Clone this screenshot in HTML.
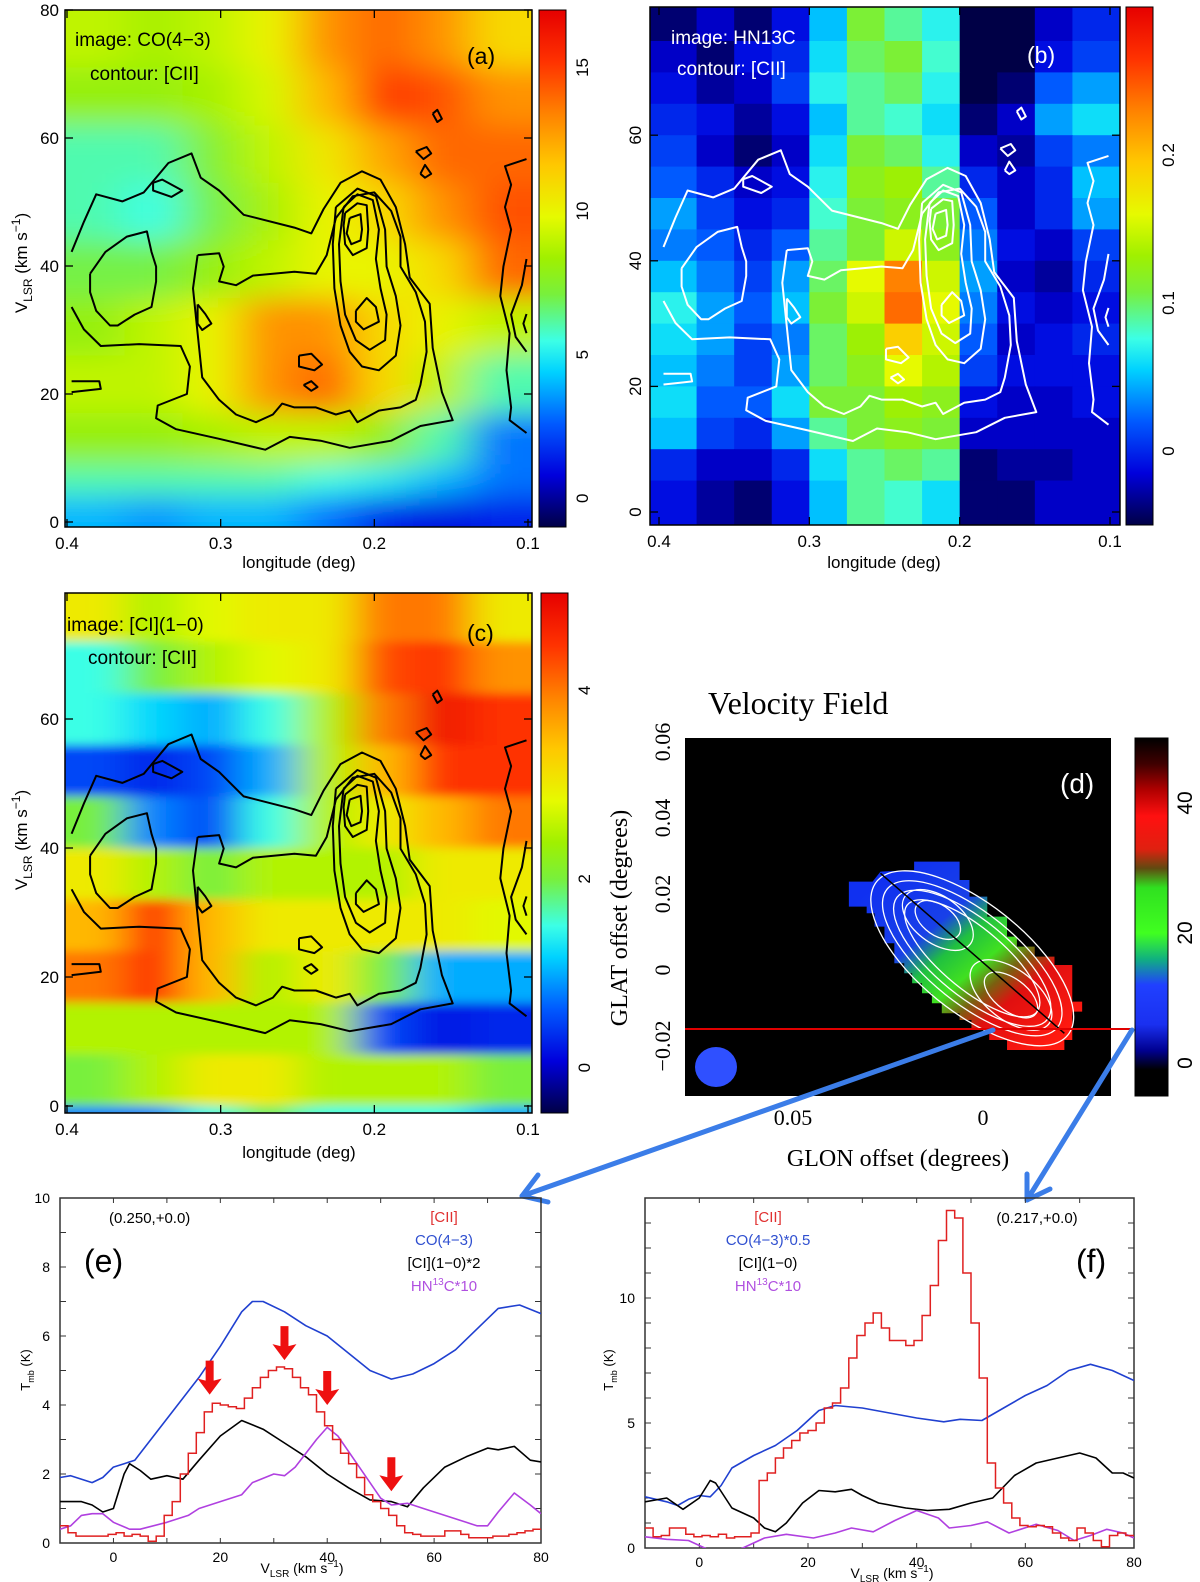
<!DOCTYPE html>
<html><head><meta charset="utf-8">
<style>
body{margin:0;background:#fff}
svg{display:block}
text{font-family:"Liberation Sans",sans-serif;fill:#000}
.serif{font-family:"Liberation Serif",serif}
</style></head>
<body>
<svg id="fig" width="1200" height="1582" viewBox="0 0 1200 1582" xmlns="http://www.w3.org/2000/svg">
<defs>
  <clipPath id="clipA"><rect x="65" y="10" width="467" height="517"/></clipPath>
  <clipPath id="clipB"><rect x="650" y="7" width="470" height="518"/></clipPath>
  <clipPath id="clipC"><rect x="65" y="593" width="467" height="520"/></clipPath>
  <clipPath id="clipE"><rect x="60" y="1198" width="481" height="345"/></clipPath>
  <clipPath id="clipF"><rect x="645" y="1198" width="489" height="350"/></clipPath>
  <filter id="blurA" x="-0.2" y="-0.2" width="1.4" height="1.4"><feGaussianBlur stdDeviation="22 14"/></filter>
  <filter id="blurC" x="-0.2" y="-0.2" width="1.4" height="1.4"><feGaussianBlur stdDeviation="20 5"/></filter>
  <linearGradient id="jet" x1="0" y1="1" x2="0" y2="0">
    <stop offset="0" stop-color="rgb(0,0,70)"/><stop offset="0.1" stop-color="rgb(0,0,220)"/>
    <stop offset="0.2" stop-color="rgb(0,90,255)"/><stop offset="0.3" stop-color="rgb(0,210,255)"/>
    <stop offset="0.36" stop-color="rgb(60,255,230)"/><stop offset="0.45" stop-color="rgb(120,240,60)"/>
    <stop offset="0.52" stop-color="rgb(160,240,0)"/><stop offset="0.6" stop-color="rgb(230,250,0)"/>
    <stop offset="0.7" stop-color="rgb(255,200,0)"/><stop offset="0.8" stop-color="rgb(255,130,0)"/>
    <stop offset="0.9" stop-color="rgb(255,50,0)"/><stop offset="1" stop-color="rgb(230,0,0)"/>
  </linearGradient>
  <linearGradient id="velcb" x1="0" y1="0" x2="0" y2="1">
    <stop offset="0" stop-color="#000"/><stop offset="0.073" stop-color="#400000"/>
    <stop offset="0.145" stop-color="#b00000"/><stop offset="0.218" stop-color="#ff1010"/>
    <stop offset="0.31" stop-color="#e02010"/><stop offset="0.364" stop-color="#604a10"/>
    <stop offset="0.418" stop-color="#30e020"/><stop offset="0.545" stop-color="#40ff20"/>
    <stop offset="0.618" stop-color="#10b080"/><stop offset="0.69" stop-color="#2040ff"/>
    <stop offset="0.8" stop-color="#1a30f0"/><stop offset="0.873" stop-color="#000090"/>
    <stop offset="0.927" stop-color="#000"/><stop offset="1" stop-color="#000"/>
  </linearGradient>
  <linearGradient id="blobgrad" gradientUnits="userSpaceOnUse" x1="760" y1="600" x2="1220" y2="1060">
    <stop offset="0" stop-color="#1030f0"/><stop offset="0.3" stop-color="#1840e8"/>
    <stop offset="0.42" stop-color="#20c040"/><stop offset="0.55" stop-color="#40e020"/>
    <stop offset="0.65" stop-color="#7a6010"/><stop offset="0.75" stop-color="#e01010"/>
    <stop offset="1" stop-color="#ff1a10"/>
  </linearGradient>
</defs>

<!-- Panel a -->
<g>
  <g clip-path="url(#clipA)"><g id="heatA" filter="url(#blurA)"></g><g id="contA"></g></g>
  <rect x="65" y="10" width="467" height="517" fill="none" stroke="#000" stroke-width="1.5"/>
  <g id="axesA"></g>
  <rect x="539" y="10" width="27" height="517" fill="url(#jet)" stroke="#000"/>
  <text x="75" y="46" font-size="19">image: CO(4−3)</text>
  <text x="90" y="80" font-size="19">contour: [CII]</text>
  <text x="467" y="64" font-size="23">(a)</text>
  <text transform="translate(27,263) rotate(-90)" text-anchor="middle" font-size="17">V<tspan font-size="12" dy="5">LSR</tspan><tspan dy="-5"> (km s</tspan><tspan font-size="12" dy="-7">−1</tspan><tspan dy="7">)</tspan></text>
  <text x="299" y="568" text-anchor="middle" font-size="17">longitude (deg)</text>
</g>

<!-- Panel b -->
<g>
  <g clip-path="url(#clipB)"><rect x="650" y="7" width="470" height="518" fill="#000050"/><g id="heatB"></g><g id="contB"></g></g>
  <rect x="650" y="7" width="470" height="518" fill="none" stroke="#000" stroke-width="1.5"/>
  <g id="axesB"></g>
  <rect x="1126" y="7" width="27" height="518" fill="url(#jet)" stroke="#000"/>
  <text x="671" y="44" font-size="19" style="fill:#fff">image: HN13C</text>
  <text x="677" y="75" font-size="19" style="fill:#fff">contour: [CII]</text>
  <text x="1027" y="63" font-size="23" style="fill:#fff">(b)</text>
  <text x="884" y="568" text-anchor="middle" font-size="17">longitude (deg)</text>
</g>

<!-- Panel c -->
<g>
  <g clip-path="url(#clipC)"><g id="heatC" filter="url(#blurC)"></g><g id="contC"></g></g>
  <rect x="65" y="593" width="467" height="520" fill="none" stroke="#000" stroke-width="1.5"/>
  <g id="axesC"></g>
  <rect x="541" y="593" width="27" height="520" fill="url(#jet)" stroke="#000"/>
  <text x="67" y="631" font-size="19">image: [CI](1−0)</text>
  <text x="88" y="664" font-size="19">contour: [CII]</text>
  <text x="467" y="641" font-size="23">(c)</text>
  <text transform="translate(27,840) rotate(-90)" text-anchor="middle" font-size="17">V<tspan font-size="12" dy="5">LSR</tspan><tspan dy="-5"> (km s</tspan><tspan font-size="12" dy="-7">−1</tspan><tspan dy="7">)</tspan></text>
  <text x="299" y="1158" text-anchor="middle" font-size="17">longitude (deg)</text>
</g>

<!-- Panel d -->
<g>
  <text class="serif" x="708" y="714" font-size="32">Velocity Field</text>
  <rect x="685" y="738" width="426" height="358" fill="#000"/>
  <g transform="translate(580,680) scale(0.3954,0.3333)">
    <polygon fill="url(#blobgrad)" points="680,605 740,605 760,575 845,570 845,545 960,545 960,600 985,600 985,650 1030,650 1030,710 1080,710 1080,770 1105,770 1105,800 1150,800 1150,830 1200,830 1200,855 1245,855 1245,965 1270,965 1270,995 1245,995 1245,1080 1225,1080 1225,1110 1080,1110 1080,1080 1035,1080 1035,1050 990,1050 990,1020 960,1020 960,1000 915,1000 915,970 890,970 890,940 865,940 865,910 840,910 840,880 820,880 820,850 795,850 795,790 770,790 770,740 745,740 745,700 725,700 725,680 680,680"/>
    <g fill="none" stroke="#fff" stroke-width="1.3">
      <ellipse cx="992" cy="835" rx="335" ry="150" transform="rotate(46 992 835)" vector-effect="non-scaling-stroke"/>
      <ellipse cx="992" cy="835" rx="300" ry="125" transform="rotate(46 992 835)" vector-effect="non-scaling-stroke"/>
      <ellipse cx="992" cy="835" rx="265" ry="105" transform="rotate(46 992 835)" vector-effect="non-scaling-stroke"/>
      <ellipse cx="992" cy="835" rx="230" ry="85" transform="rotate(46 992 835)" vector-effect="non-scaling-stroke"/>
      <ellipse cx="905" cy="720" rx="110" ry="65" transform="rotate(46 905 720)" vector-effect="non-scaling-stroke"/>
      <ellipse cx="905" cy="720" rx="70" ry="42" transform="rotate(46 905 720)" vector-effect="non-scaling-stroke"/>
      <ellipse cx="1090" cy="945" rx="130" ry="70" transform="rotate(46 1090 945)" vector-effect="non-scaling-stroke"/>
      <ellipse cx="1090" cy="945" rx="85" ry="45" transform="rotate(46 1090 945)" vector-effect="non-scaling-stroke"/>
    </g>
    <line x1="760" y1="580" x2="1225" y2="1060" stroke="#000" stroke-width="1.5" vector-effect="non-scaling-stroke"/>
  </g>
  <text x="1060" y="793" font-size="28" style="fill:#fff">(d)</text>
  <ellipse cx="716" cy="1067" rx="21" ry="20" fill="#2f50ff"/>
  <line x1="685" y1="1029" x2="1132" y2="1029" stroke="#e00000" stroke-width="2"/>
  <rect x="1135" y="738" width="33" height="358" fill="url(#velcb)" stroke="#000"/>
  <g font-size="21">
    <text transform="translate(1192,803) rotate(-90)" text-anchor="middle">40</text>
    <text transform="translate(1192,933) rotate(-90)" text-anchor="middle">20</text>
    <text transform="translate(1192,1063) rotate(-90)" text-anchor="middle">0</text>
  </g>
  <g font-size="22">
    <text class="serif" transform="translate(670,742) rotate(-90)" text-anchor="middle">0.06</text>
    <text class="serif" transform="translate(670,818) rotate(-90)" text-anchor="middle">0.04</text>
    <text class="serif" transform="translate(670,894) rotate(-90)" text-anchor="middle">0.02</text>
    <text class="serif" transform="translate(670,970) rotate(-90)" text-anchor="middle">0</text>
    <text class="serif" transform="translate(670,1046) rotate(-90)" text-anchor="middle">−0.02</text>
    <text class="serif" x="793" y="1125" text-anchor="middle">0.05</text>
    <text class="serif" x="983" y="1125" text-anchor="middle">0</text>
  </g>
  <text class="serif" transform="translate(627,918) rotate(-90)" text-anchor="middle" font-size="24">GLAT offset (degrees)</text>
  <text class="serif" x="898" y="1166" text-anchor="middle" font-size="24">GLON offset (degrees)</text>
</g>

<!-- connector arrows -->
<g stroke="#3b7de8" stroke-width="5" stroke-linecap="round" stroke-linejoin="round" fill="none">
  <line x1="993" y1="1030" x2="522" y2="1196"/>
  <polyline points="538,1175 522,1196 548,1202"/>
  <line x1="1132" y1="1030" x2="1027" y2="1200"/>
  <polyline points="1050,1189 1027,1200 1027,1174"/>
</g>

<!-- Panel e -->
<g>
  <g id="plotE"></g>
  <text x="109" y="1223" font-size="15">(0.250,+0.0)</text>
  <text x="84" y="1272" font-size="32">(e)</text>
  <g font-size="15" text-anchor="middle">
    <text x="444" y="1222" style="fill:#e03030">[CII]</text>
    <text x="444" y="1245" style="fill:#3050d0">CO(4−3)</text>
    <text x="444" y="1268">[CI](1−0)*2</text>
    <text x="444" y="1291" style="fill:#b050e0">HN<tspan font-size="10" dy="-6">13</tspan><tspan dy="6">C*10</tspan></text>
  </g>
  <text transform="translate(30,1370) rotate(-90)" text-anchor="middle" font-size="13">T<tspan font-size="9" dy="4">mb</tspan><tspan dy="-4"> (K)</tspan></text>
  <text x="302" y="1573" text-anchor="middle" font-size="14">V<tspan font-size="10" dy="4">LSR</tspan><tspan dy="-4"> (km s</tspan><tspan font-size="10" dy="-6">−1</tspan><tspan dy="6">)</tspan></text>
</g>

<!-- Panel f -->
<g>
  <g id="plotF"></g>
  <text x="1037" y="1223" text-anchor="middle" font-size="15">(0.217,+0.0)</text>
  <text x="1076" y="1272" font-size="32">(f)</text>
  <g font-size="15" text-anchor="middle">
    <text x="768" y="1222" style="fill:#e03030">[CII]</text>
    <text x="768" y="1245" style="fill:#3050d0">CO(4−3)*0.5</text>
    <text x="768" y="1268">[CI](1−0)</text>
    <text x="768" y="1291" style="fill:#b050e0">HN<tspan font-size="10" dy="-6">13</tspan><tspan dy="6">C*10</tspan></text>
  </g>
  <text transform="translate(613,1370) rotate(-90)" text-anchor="middle" font-size="13">T<tspan font-size="9" dy="4">mb</tspan><tspan dy="-4"> (K)</tspan></text>
  <text x="892" y="1578" text-anchor="middle" font-size="14">V<tspan font-size="10" dy="4">LSR</tspan><tspan dy="-4"> (km s</tspan><tspan font-size="10" dy="-6">−1</tspan><tspan dy="6">)</tspan></text>
</g>
</svg>

<script>
// ---------- data: PV images ----------
const aLonEdges = [0.4,0.3625,0.325,0.2875,0.25,0.2125,0.175,0.1375,0.1];
const aVelEdges = [80,71,62,53,44,35,26,17,9,4,-1];
const aValues = [
  [9,8.5,9,10,13,14,13,11],
  [8,8,8.5,9.5,12,15,14.5,13],
  [6,6,7.5,9,10.5,12.5,14,14],
  [6,5.5,7,8.5,10,11,13,14.5],
  [7,7,8,9,10,10,11,14],
  [8,9,10,13,13,11,10,9],
  [9,9,10,13,14,11,9,6],
  [8,8,8.5,9,9,8,6,3],
  [6,6,6,6,5.5,5,4,3],
  [4,3.5,4,4,3,1.5,1,1.5]
];
const cLonEdges = [0.4,0.3625,0.325,0.2875,0.25,0.2125,0.175,0.1375,0.1];
const cVelEdges = [80,72,64,56,48,40,32,24,16,8,0,-1];
const cValues = [
  [3,2.5,2.8,3,3,4,4,3],
  [1.5,2,2.5,2.8,3,4.3,4.5,3.8],
  [1.5,1.2,1,1.5,2.5,4,4.8,4.5],
  [0.5,0.3,0.5,1,2.5,3.5,4.5,4.5],
  [2,0.8,0.5,1.5,2.5,3,3.5,4],
  [3,2.5,2,2.5,2.5,2.5,3,3],
  [3.5,4.5,3.5,3,3,3,3,2.8],
  [4,4.5,3.5,2.5,3,2,1,1],
  [2.5,2.5,2.5,2.5,2.5,0.5,0.2,0.3],
  [2,2.5,3,3,2.5,2.5,2.5,2],
  [0.8,0.8,1.5,2,1.5,1.5,1.5,1]
];
const bLonEdges = [0.406,0.375,0.35,0.325,0.3,0.275,0.25,0.225,0.2,0.175,0.15,0.125,0.093];
const bVelEdges = [81,75,70,65,60,55,50,45,40,35,30,25,20,15,10,5,-2];
const bValues = [
  [-0.04,-0.02,-0.04,-0.01,0.05,0.11,0.09,0.07,-0.07,-0.07,-0.02,0.0],
  [-0.02,-0.04,-0.01,0.0,0.06,0.10,0.11,0.08,-0.07,-0.06,-0.01,0.01],
  [-0.01,-0.03,-0.02,0.01,0.07,0.09,0.10,0.07,-0.06,-0.04,0.02,0.04],
  [0.0,-0.01,-0.03,-0.01,0.05,0.09,0.08,0.06,-0.04,-0.02,0.04,0.06],
  [0.01,-0.02,-0.04,-0.02,0.06,0.11,0.10,0.07,-0.02,-0.03,0.01,0.03],
  [0.02,0.0,-0.02,-0.01,0.07,0.12,0.13,0.09,0.0,-0.02,0.0,0.05],
  [0.04,0.01,-0.01,0.0,0.08,0.11,0.12,0.11,0.02,-0.02,0.0,0.04],
  [0.03,0.02,0.0,0.02,0.09,0.11,0.15,0.12,0.03,-0.01,-0.02,0.01],
  [0.05,0.03,0.01,0.04,0.10,0.16,0.23,0.15,0.04,-0.02,-0.03,0.0],
  [0.07,0.04,0.02,0.05,0.11,0.15,0.24,0.16,0.03,-0.01,-0.02,-0.01],
  [0.06,0.04,0.01,0.03,0.10,0.13,0.19,0.15,0.02,-0.02,-0.01,0.0],
  [0.05,0.03,0.01,0.04,0.10,0.12,0.16,0.14,0.01,-0.01,-0.01,-0.01],
  [0.06,0.02,0.02,0.06,0.11,0.11,0.13,0.12,-0.01,-0.02,-0.02,-0.01],
  [0.05,0.01,0.0,0.04,0.09,0.11,0.12,0.11,-0.02,-0.02,-0.02,-0.02],
  [0.0,-0.02,-0.02,0.0,0.06,0.09,0.10,0.09,-0.04,-0.03,-0.03,-0.02],
  [-0.01,-0.03,-0.04,-0.01,0.05,0.09,0.08,0.06,-0.04,-0.04,-0.02,-0.02]
];
// [CII] contours (longitude deg, velocity km/s)
const ciiContours = [
  [[0.397,42.2],[0.389,46.9],[0.381,51.2],[0.364,50.1],[0.350,51.5],[0.334,56.1],[0.319,57.6],[0.313,53.8],[0.301,51.8],[0.285,48.0],[0.252,46.0],[0.241,45.1],[0.233,48.9],[0.222,53.0],[0.208,54.8],[0.196,53.5],[0.186,49.2],[0.180,43.4],[0.177,38.2],[0.164,34.1],[0.162,27.2],[0.156,20.3],[0.149,15.9],[0.170,15.0],[0.189,12.7],[0.216,11.6],[0.235,12.7],[0.255,13.3],[0.271,11.3],[0.301,13.0],[0.329,14.5],[0.342,16.2],[0.341,18.2],[0.322,20.0],[0.320,24.3],[0.326,27.5],[0.353,27.8],[0.378,27.5],[0.389,30.1],[0.397,33.6]],
  [[0.315,41.7],[0.301,42.0],[0.298,39.9],[0.301,37.6],[0.290,37.0],[0.279,38.5],[0.252,39.1],[0.238,38.8],[0.231,41.7],[0.225,47.5],[0.214,50.9],[0.200,51.5],[0.189,48.6],[0.183,44.6],[0.183,39.9],[0.173,35.9],[0.167,31.3],[0.166,26.6],[0.170,21.4],[0.173,19.1],[0.183,17.9],[0.197,17.4],[0.211,15.6],[0.216,17.4],[0.225,16.8],[0.238,17.9],[0.252,17.9],[0.260,18.5],[0.266,16.8],[0.277,15.6],[0.290,16.8],[0.301,19.1],[0.312,22.6],[0.315,29.5],[0.318,36.5],[0.315,41.7]],
  [[0.385,38.8],[0.375,42.2],[0.361,44.6],[0.348,45.4],[0.345,42.2],[0.342,39.9],[0.342,37.6],[0.345,33.6],[0.356,32.4],[0.367,30.7],[0.372,30.7],[0.381,33.0],[0.385,35.9],[0.385,38.8]],
  [[0.225,49.2],[0.211,52.1],[0.199,50.9],[0.193,45.7],[0.192,39.9],[0.186,35.3],[0.183,30.7],[0.186,26.0],[0.197,23.7],[0.208,24.3],[0.216,26.6],[0.222,30.7],[0.226,36.5],[0.227,43.4],[0.225,49.2]],
  [[0.220,49.2],[0.211,51.2],[0.201,50.3],[0.197,45.7],[0.199,41.1],[0.196,36.5],[0.192,32.4],[0.193,28.4],[0.203,26.9],[0.212,28.4],[0.219,32.4],[0.222,37.6],[0.223,43.4],[0.220,49.2]],
  [[0.219,48.3],[0.211,49.8],[0.205,49.5],[0.204,45.7],[0.205,42.8],[0.214,41.7],[0.219,43.4],[0.220,46.3],[0.219,48.3]],
  [[0.216,47.5],[0.209,48.1],[0.208,45.7],[0.209,44.0],[0.215,43.4],[0.218,45.1],[0.216,47.5]],
  [[0.212,33.0],[0.205,35.0],[0.199,33.6],[0.197,31.3],[0.207,30.1],[0.212,31.3],[0.212,33.0]],
  [[0.315,34.0],[0.310,32.5],[0.306,31.0],[0.312,30.0],[0.315,31.0],[0.315,34.0]],
  [[0.344,53.0],[0.338,53.5],[0.325,51.8],[0.332,50.8],[0.344,51.8],[0.344,53.0]],
  [[0.249,26.0],[0.241,26.3],[0.234,24.6],[0.239,23.7],[0.249,24.3],[0.249,26.0]],
  [[0.246,21.4],[0.241,22.0],[0.237,21.1],[0.241,20.5],[0.246,21.4]],
  [[0.162,63.8],[0.159,64.4],[0.156,63.0],[0.159,62.5],[0.162,63.8]],
  [[0.173,57.9],[0.166,58.6],[0.163,57.6],[0.168,56.7],[0.173,57.9]],
  [[0.170,54.4],[0.167,55.8],[0.163,54.4],[0.167,53.8],[0.170,54.4]],
  [[0.397,22.0],[0.379,22.0],[0.378,20.8],[0.389,20.5],[0.397,20.3]],
  [[0.101,56.7],[0.115,55.6],[0.111,52.7],[0.115,49.2],[0.111,45.7],[0.116,39.9],[0.118,35.3],[0.112,29.5],[0.114,23.7],[0.111,17.9],[0.112,15.9],[0.101,13.9]],
  [[0.101,41.1],[0.104,37.0],[0.111,32.4],[0.108,28.9],[0.101,26.6]],
  [[0.101,32.5],[0.103,31.0],[0.101,29.5]]
];

// ---------- data: spectra ----------
const eCOv = [-10,-8,-4,-2,0,2,4,8,12,16,20,24,26,28,32,36,40,44,48,52,56,60,64,68,72,76,80];
const eCOt = [1.9,1.95,1.75,1.9,2.2,2.3,2.4,3.2,4.0,4.8,5.7,6.7,7.0,7.0,6.7,6.3,6.0,5.5,5.0,4.75,4.9,5.2,5.6,6.2,6.8,6.9,6.65];
const eCIv = [-10,-6,-4,-2,0,2,3,5,7,10,13,16,20,24,28,32,36,40,44,48,52,55,58,62,66,70,72,75,78,80];
const eCIt = [1.2,1.2,1.1,0.9,1.0,2.0,2.3,2.1,1.85,1.95,1.85,2.4,3.1,3.55,3.3,2.9,2.5,2.0,1.6,1.25,1.2,1.05,1.6,2.2,2.5,2.75,2.7,2.8,2.4,2.35];
const eHNv = [-10,-8,-6,-4,-2,0,3,5,10,14,16,20,24,26,30,32,34,38,40,42,46,50,52,55,58,62,66,68,70,72,75,78,80];
const eHNt = [0.4,0.5,0.8,0.85,0.85,0.6,0.4,0.4,0.6,0.8,1.0,1.2,1.4,1.75,2.0,1.95,2.2,3.0,3.35,3.1,2.2,1.3,1.1,1.15,1.0,0.8,0.6,0.5,0.5,0.9,1.45,1.1,0.85];
const eCIIstart = -10, eCIIwidth = 1.5;
const eCIIt = [0.5,0.3,0.2,0.2,0.2,0.2,0.25,0.3,0.2,0.25,0.2,0.05,0.2,0.8,1.2,2.0,2.6,3.2,3.8,4.05,4.0,3.95,3.9,4.2,4.5,4.8,5.0,5.1,5.05,4.8,4.5,4.3,3.8,3.4,3.0,2.6,2.3,1.9,1.4,1.2,1.0,0.8,0.5,0.3,0.25,0.2,0.2,0.2,0.35,0.35,0.25,0.15,0.15,0.15,0.2,0.2,0.25,0.3,0.35,0.4];
const eArrowV = [18,32,40,52];
const eArrowT = [4.3,5.3,4.0,1.5];

const fCOv = [-10,-6,-4,-2,0,2,4,6,10,14,18,22,25,30,35,40,45,48,52,56,60,64,68,72,76,80];
const fCOt = [2.05,1.85,1.7,1.95,2.1,2.05,2.5,3.2,3.7,4.1,4.7,5.5,5.7,5.6,5.4,5.2,5.05,5.15,5.1,5.6,6.1,6.5,7.1,7.35,7.1,6.7];
const fCIv = [-10,-6,-3,0,2,3,6,10,12,14,16,19,22,25,28,30,33,38,42,46,50,54,58,62,66,70,73,76,78,80];
const fCIt = [1.85,2.0,1.55,2.0,2.7,2.6,1.6,1.2,0.8,0.65,1.0,1.8,2.3,2.25,2.35,2.1,1.8,1.6,1.5,1.55,1.8,2.0,2.9,3.4,3.6,3.8,3.6,3.0,3.0,2.8];
const fHNv = [-10,-6,-2,0,2,5,8,12,16,21,25,28,32,36,40,44,46,50,53,57,62,66,69,72,75,78,80];
const fHNt = [0.45,0.35,0.3,0.1,-0.1,-0.3,0.0,0.4,0.55,0.4,0.6,0.8,0.65,1.1,1.5,1.2,0.8,0.9,1.05,0.6,0.95,0.7,0.3,0.5,0.75,0.6,0.4];
const fCIIstart = -10, fCIIwidth = 1.5;
const fCIIt = [0.8,0.45,0.5,0.8,0.8,0.55,0.45,0.5,0.45,0.55,0.4,0.45,0.45,0.6,2.7,3.0,3.6,4.0,4.3,4.6,4.7,5.0,5.6,5.8,6.4,7.6,8.5,9.0,9.4,8.8,8.3,8.3,8.1,8.3,9.3,10.5,12.3,13.5,13.2,11.0,9.0,6.8,3.4,2.4,1.8,1.2,0.9,0.85,0.9,0.85,0.6,0.4,0.3,0.8,0.6,0.3,0.05,0.5,0.6,0.5];

// ---------- helpers ----------
const NS = 'http://www.w3.org/2000/svg';
function mk(tag, parent, attrs){
  const e = document.createElementNS(NS, tag);
  for (const k in attrs) e.setAttribute(k, attrs[k]);
  parent.appendChild(e);
  return e;
}
const cmStops = [[0,0,0,70],[0.1,0,0,220],[0.2,0,90,255],[0.3,0,210,255],[0.36,60,255,230],[0.45,120,240,60],[0.52,160,240,0],[0.6,230,250,0],[0.7,255,200,0],[0.8,255,130,0],[0.9,255,50,0],[1,230,0,0]];
function cmap(t){
  t = Math.max(0, Math.min(1, t));
  for (let i = 1; i < cmStops.length; i++){
    if (t <= cmStops[i][0]){
      const a = cmStops[i-1], b = cmStops[i], f = (t-a[0])/(b[0]-a[0]);
      return 'rgb(' + [1,2,3].map(k => Math.round(a[k] + f*(b[k]-a[k]))).join(',') + ')';
    }
  }
  return 'rgb(230,0,0)';
}

const xA = lon => 67 + (0.4 - lon) / 0.3 * 461;
const yA = v => 522 - v * 6.4;
const yC = v => 1106 - v * 6.45;
const xB = lon => 659 + (0.4 - lon) / 0.3 * 451;
const yB = v => 512 - v * 6.28;

function drawHeat(g, lonE, velE, vals, xs, ys, vmin, vmax, pad, name){
  for (let i = 0; i < vals.length; i++){
    for (let j = 0; j < vals[i].length; j++){
      let x0 = xs(lonE[j]), x1 = xs(lonE[j+1]), y0 = ys(velE[i]), y1 = ys(velE[i+1]);
      if (pad){
        if (j === 0) x0 -= pad;
        if (j === vals[i].length-1) x1 += pad;
        if (i === 0) y0 -= pad;
        if (i === vals.length-1) y1 += pad;
      }
      const r = mk('rect', g, {x: x0, y: y0, width: x1-x0+0.6, height: y1-y0+0.6, fill: cmap((vals[i][j]-vmin)/(vmax-vmin))});
      
      
    }
  }
}
drawHeat(document.getElementById('heatA'), aLonEdges, aVelEdges, aValues, xA, yA, -1, 17, 60, 'heat-cell-a');
drawHeat(document.getElementById('heatC'), cLonEdges, cVelEdges, cValues, xA, yC, -0.48, 5.03, 60, 'heat-cell-c');
drawHeat(document.getElementById('heatB'), bLonEdges, bVelEdges, bValues, xB, yB, -0.05, 0.3, 0, 'heat-cell-b');

function drawContours(g, xs, ys, color, name){
  ciiContours.forEach(c => {
    const p = mk('polyline', g, {points: c.map(q => xs(q[0]).toFixed(1) + ',' + ys(q[1]).toFixed(1)).join(' '), fill: 'none', stroke: color, 'stroke-width': 2, 'stroke-linejoin': 'round'});
    
    
  });
}
drawContours(document.getElementById('contA'), xA, yA, '#000', 'cii-contour');
drawContours(document.getElementById('contB'), xB, yB, '#fff', 'cii-contour');
drawContours(document.getElementById('contC'), xA, yC, '#000', 'cii-contour');

function pvAxes(g, xs, ys, box, yTicks, xTicks, rotY){
  yTicks.forEach(v => {
    const y = ys(v);
    mk('line', g, {x1: box[0], y1: y, x2: box[0]+8, y2: y, stroke: '#000', 'stroke-width': 1.3});
    mk('line', g, {x1: box[2], y1: y, x2: box[2]-8, y2: y, stroke: '#000', 'stroke-width': 1.3});
    let t;
    if (rotY) t = mk('text', g, {transform: 'translate(' + (box[0]-9) + ',' + y + ') rotate(-90)', 'text-anchor': 'middle', 'font-size': 17});
    else t = mk('text', g, {x: box[0]-6, y: y+6, 'text-anchor': 'end', 'font-size': 17});
    t.textContent = String(v);
    
    
  });
  xTicks.forEach(l => {
    const x = xs(l);
    mk('line', g, {x1: x, y1: box[3], x2: x, y2: box[3]-8, stroke: '#000', 'stroke-width': 1.3});
    mk('line', g, {x1: x, y1: box[1], x2: x, y2: box[1]+8, stroke: '#000', 'stroke-width': 1.3});
    const t = mk('text', g, {x: x, y: box[3]+22, 'text-anchor': 'middle', 'font-size': 17});
    t.textContent = String(l);
    
    
  });
}
const pvYTicksA = [0,20,40,60,80];
const pvYTicksB = [0,20,40,60];
const pvXTicks = [0.4,0.3,0.2,0.1];
pvAxes(document.getElementById('axesA'), xA, yA, [65,10,532,527], pvYTicksA, pvXTicks, false);
pvAxes(document.getElementById('axesB'), xB, yB, [650,7,1120,525], pvYTicksB, pvXTicks, true);
pvAxes(document.getElementById('axesC'), xA, yC, [65,593,532,1113], pvYTicksB, pvXTicks, false);

function cbLabels(g, labels, vmin, vmax, top, bottom, x){
  labels.forEach(v => {
    const y = bottom - (v - vmin) / (vmax - vmin) * (bottom - top);
    mk('line', g, {x1: x-44, y1: y, x2: x-38, y2: y, stroke: '#000'});
    const t = mk('text', g, {transform: 'translate(' + x + ',' + y + ') rotate(-90)', 'text-anchor': 'middle', 'font-size': 17});
    t.textContent = String(v);
    
    
  });
}
const cbTicksA = [0,5,10,15];
const cbTicksB = [0,0.1,0.2];
const cbTicksC = [0,2,4];
cbLabels(document.getElementById('axesA'), cbTicksA, -1, 17, 10, 527, 588);
cbLabels(document.getElementById('axesB'), cbTicksB, -0.05, 0.3, 7, 525, 1174);
cbLabels(document.getElementById('axesC'), cbTicksC, -0.48, 5.03, 593, 1113, 590);

// ---------- spectra ----------
function spectrum(gid, cfg){
  const g = document.getElementById(gid);
  const xs = v => cfg.x0 + (v - cfg.vmin) / (cfg.vmax - cfg.vmin) * (cfg.x1 - cfg.x0);
  const ys = t => cfg.yb - t * cfg.kpx;
  const frame = mk('rect', g, {x: cfg.x0, y: cfg.yt, width: cfg.x1-cfg.x0, height: cfg.yb-cfg.yt, fill: 'none', stroke: '#333', 'stroke-width': 1.5});
  
  
  for (let v = -10; v <= 80; v += 10){
    const x = xs(v);
    mk('line', g, {x1: x, y1: cfg.yb, x2: x, y2: cfg.yb-5, stroke: '#333'});
    mk('line', g, {x1: x, y1: cfg.yt, x2: x, y2: cfg.yt+5, stroke: '#333'});
  }
  cfg.xTicks.forEach(v => {
    const t = mk('text', g, {x: xs(v), y: cfg.yb+19, 'text-anchor': 'middle', 'font-size': 14});
    t.textContent = String(v);
    
    
  });
  for (let k = 0; k * cfg.minor <= cfg.tmax; k++){
    const y = ys(k * cfg.minor);
    mk('line', g, {x1: cfg.x0, y1: y, x2: cfg.x0+6, y2: y, stroke: '#333'});
    mk('line', g, {x1: cfg.x1, y1: y, x2: cfg.x1-6, y2: y, stroke: '#333'});
  }
  cfg.yTicks.forEach(v => {
    const t = mk('text', g, {x: cfg.x0-10, y: ys(v)+5, 'text-anchor': 'end', 'font-size': 14});
    t.textContent = String(v);
    
    
  });
  const cg = mk('g', g, {'clip-path': 'url(#' + cfg.clip + ')'});
  function line(vs, ts, color, name){
    const p = mk('polyline', cg, {points: vs.map((v, i) => xs(v).toFixed(1) + ',' + ys(ts[i]).toFixed(1)).join(' '), fill: 'none', stroke: color, 'stroke-width': 1.6, 'stroke-linejoin': 'round'});
    
    
  }
  line(cfg.coV, cfg.coT, '#2040d0', 'co43-spectrum');
  line(cfg.ciV, cfg.ciT, '#000', 'ci10-spectrum');
  line(cfg.hnV, cfg.hnT, '#b040e0', 'hn13c-spectrum');
  let d = '';
  cfg.cii.forEach((t, i) => {
    const xa = xs(cfg.ciiStart + i * cfg.ciiW), xb = xs(cfg.ciiStart + (i+1) * cfg.ciiW), y = ys(t);
    d += (i === 0 ? 'M' + xa.toFixed(1) + ',' + y.toFixed(1) : 'V' + y.toFixed(1)) + 'H' + xb.toFixed(1);
  });
  const sp = mk('path', cg, {d: d, fill: 'none', stroke: '#e02020', 'stroke-width': 1.5});
  
  
  return {xs, ys, g};
}
const eXTicks = [0,20,40,60,80];
const eYTicks = [0,2,4,6,8,10];
const fYTicks = [0,5,10];
const eAx = spectrum('plotE', {x0: 60, x1: 541, yt: 1198, yb: 1543, vmin: -10, vmax: 80, kpx: 34.5, tmax: 10, minor: 1, clip: 'clipE',
  xTicks: eXTicks, yTicks: eYTicks, coV: eCOv, coT: eCOt, ciV: eCIv, ciT: eCIt, hnV: eHNv, hnT: eHNt, cii: eCIIt, ciiStart: eCIIstart, ciiW: eCIIwidth});
spectrum('plotF', {x0: 645, x1: 1134, yt: 1198, yb: 1548, vmin: -10, vmax: 80, kpx: 25, tmax: 14, minor: 1, clip: 'clipF',
  xTicks: eXTicks, yTicks: fYTicks, coV: fCOv, coT: fCOt, ciV: fCIv, ciT: fCIt, hnV: fHNv, hnT: fHNt, cii: fCIIt, ciiStart: fCIIstart, ciiW: fCIIwidth});

eArrowV.forEach((v, i) => {
  const x = eAx.xs(v), y = eAx.ys(eArrowT[i]);
  const p = mk('polygon', eAx.g, {points: [[x, y], [x-12, y-16], [x-4, y-14], [x-4, y-34], [x+4, y-34], [x+4, y-14], [x+12, y-16]].map(q => q.join(',')).join(' '), fill: '#ee1010'});
  
  
});
</script>
</body></html>
